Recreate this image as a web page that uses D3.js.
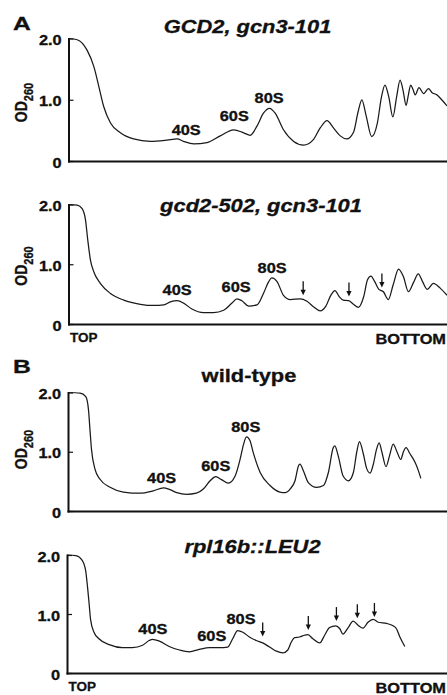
<!DOCTYPE html>
<html><head><meta charset="utf-8">
<script src="https://cdn.jsdelivr.net/npm/d3@7"></script>
<style>
html,body{margin:0;padding:0;background:#fff;}
svg{display:block;}
text{font-family:"Liberation Sans",Arial,Helvetica,sans-serif;font-weight:bold;fill:#111;stroke:#111;stroke-width:0.3px;}
</style></head><body>
<svg id="c" width="447" height="695"></svg>
<script>
// ---------- data (gradient position 0-100 %, OD260) ----------
const posA1 = [0.1,2.3,4.9,6.7,8.0,9.3,11.1,13.7,17.2,21.6,26.0,28.7,30.4,33.1,36.6,40.1,43.6,46.3,48.0,49.8,51.5,53.1,54.6,56.8,59.5,62.1,64.7,66.5,68.3,70.0,71.8,73.5,75.3,76.5,77.5,78.6,80.1,81.6,82.7,83.6,84.6,85.7,86.7,87.6,88.4,89.2,89.8,90.4,91.0,91.6,92.6,93.8,95.1,96.0,97.3,98.6,100];
const odA1  = [2.0,1.98,1.81,1.54,1.22,0.89,0.62,0.46,0.36,0.32,0.34,0.36,0.32,0.28,0.30,0.41,0.51,0.46,0.42,0.57,0.78,0.86,0.78,0.51,0.32,0.26,0.35,0.54,0.66,0.54,0.41,0.36,0.47,0.80,1.00,0.75,0.40,0.62,1.05,1.24,1.05,0.72,1.05,1.32,1.15,0.91,1.08,1.24,1.17,1.08,1.20,1.10,1.18,1.12,1.08,1.00,0.90];

const posA2 = [0.1,2.3,3.6,4.5,5.1,5.8,6.7,8.4,11.1,14.6,19.0,22.5,25.2,26.9,28.7,30.4,32.6,35.7,38.3,41.0,43.2,44.5,45.8,47.6,49.8,51.5,52.9,53.7,55.1,56.8,58.6,61.2,63.0,64.7,66.5,68.0,69.3,70.4,71.5,72.6,74.0,75.3,76.6,78.0,79.0,79.9,80.9,82.0,83.2,84.5,85.8,87.2,88.5,89.8,91.2,92.4,93.6,94.8,96.4,98.2,100];
const odA2  = [2.0,1.99,1.93,1.74,1.40,1.07,0.87,0.68,0.51,0.40,0.33,0.31,0.32,0.37,0.39,0.35,0.25,0.19,0.19,0.23,0.35,0.42,0.39,0.30,0.32,0.51,0.71,0.77,0.71,0.48,0.41,0.42,0.38,0.29,0.22,0.30,0.48,0.56,0.46,0.40,0.39,0.33,0.28,0.46,0.74,0.80,0.71,0.58,0.54,0.41,0.66,0.92,0.79,0.54,0.70,0.84,0.70,0.58,0.68,0.60,0.48];

const posB1 = [0.1,3.2,4.7,5.4,5.8,6.2,7.1,8.4,11.1,14.6,19.0,22.5,25.2,26.9,28.7,31.3,33.9,35.7,37.5,39.0,40.5,42.3,44.1,45.4,46.3,47.1,48.0,48.9,50.7,53.3,55.9,57.3,58.6,59.9,60.8,61.2,62.1,63.4,65.6,67.4,68.7,70.0,70.4,71.3,72.6,74.0,75.3,76.2,76.9,77.9,78.8,79.7,80.6,81.4,82.1,82.8,83.9,84.9,85.8,86.8,87.8,88.5,89.2,90.2,91.5,92.4,93.1];
const odB1  = [2.0,1.99,1.93,1.71,1.37,1.04,0.71,0.54,0.40,0.32,0.30,0.34,0.39,0.36,0.31,0.28,0.30,0.37,0.51,0.58,0.53,0.47,0.59,0.87,1.12,1.25,1.19,0.98,0.65,0.43,0.32,0.31,0.37,0.51,0.76,0.79,0.68,0.48,0.40,0.43,0.65,1.07,1.10,0.93,0.59,0.51,0.65,1.00,1.17,0.97,0.72,0.64,0.80,1.04,1.15,1.00,0.75,0.95,1.13,1.00,0.87,1.00,1.07,0.97,0.83,0.69,0.55];

const posB2 = [0.1,2.3,4.0,4.9,5.4,5.8,6.2,7.1,8.4,11.1,14.6,17.2,19.9,21.6,22.5,24.3,26.9,29.6,32.2,34.8,37.5,40.1,42.3,43.6,44.9,46.3,48.0,49.8,51.5,53.3,55.1,56.8,58.1,59.0,59.9,61.2,62.5,63.4,64.7,66.5,67.8,69.1,70.7,71.8,72.6,74.0,75.3,76.6,77.9,79.2,80.6,81.9,84.1,85.8,86.7,87.6,88.9];
const odB2  = [2.0,1.99,1.91,1.74,1.46,1.19,0.91,0.69,0.58,0.48,0.43,0.43,0.47,0.55,0.57,0.54,0.45,0.39,0.36,0.40,0.43,0.43,0.44,0.58,0.72,0.69,0.61,0.55,0.51,0.44,0.37,0.34,0.39,0.52,0.60,0.61,0.64,0.65,0.58,0.51,0.64,0.77,0.80,0.75,0.66,0.77,0.88,0.81,0.76,0.86,0.91,0.86,0.84,0.80,0.75,0.61,0.45];

const panelTitles = ["GCD2, gcn3-101", "gcd2-502, gcn3-101", "wild-type", "rpl16b::LEU2"];
const panelLetters = ["A", "", "B", ""];
const yTicks = [0, 1, 2];
const endLabels = ["TOP", "BOTTOM"];
const peakNames = ["40S", "60S", "80S"];
const peakPosA1 = [31.1, 43.8, 53.0], peakOdA1 = [0.43, 0.65, 0.95];
const peakPosA2 = [28.7, 44.3, 53.8], peakOdA2 = [0.49, 0.53, 0.85];
const peakPosB1 = [24.7, 39.0, 46.9], peakOdB1 = [0.48, 0.68, 1.34];
const peakPosB2 = [22.6, 38.1, 45.8], peakOdB2 = [0.66, 0.54, 0.83];
const arrowPosA2 = [62.0, 74.1, 82.8], arrowOdA2 = [0.48, 0.46, 0.61];
const arrowPosB2 = [51.5, 63.5, 70.9, 76.4, 80.9], arrowOdB2 = [0.62, 0.73, 0.88, 0.93, 0.95];

// ---------- layout ----------
const SX = 1.17;
const W = 447;
const panels = [
  {pos: posA1, od: odA1, peaks: [peakPosA1, peakOdA1], arrows: null,
   top: 38.5, base: 161, x0: 68.5, titleX: 247.5, titleY: 33.3, italic: true, odY: 102.5, letterY: 29.5, ends: null},
  {pos: posA2, od: odA2, peaks: [peakPosA2, peakOdA2], arrows: [arrowPosA2, arrowOdA2],
   top: 204.5, base: 324, x0: 68.5, titleX: 261, titleY: 211.5, italic: true, odY: 266, letterY: 0, ends: [342, 343.5]},
  {pos: posB1, od: odB1, peaks: [peakPosB1, peakOdB1], arrows: null,
   top: 392.5, base: 511, x0: 68, titleX: 249, titleY: 381.7, italic: false, odY: 449.5, letterY: 373.3, ends: null},
  {pos: posB2, od: odB2, peaks: [peakPosB2, peakOdB2], arrows: [arrowPosB2, arrowOdB2],
   top: 555, base: 673, x0: 67, titleX: 252.5, titleY: 553, italic: true, odY: null, letterY: 0, ends: [691, 692.5]}
];

const svg = d3.select("#c");

function sText(parent, x, y, str, size, sx, anchor, italic) {
  return parent.append("text")
    .attr("transform", `translate(${x},${y}) scale(${sx},1)`)
    .attr("text-anchor", anchor)
    .style("font-size", size + "px")
    .style("font-style", italic ? "italic" : "normal")
    .text(str);
}

panels.forEach((L, i) => {
  const g = svg.append("g");
  const x = d3.scaleLinear().domain([0, 100]).range([L.x0, W]);
  const y = d3.scaleLinear().domain([0, 2]).range([L.base, L.top]);

  // y axis
  const ya = g.append("g").attr("transform", `translate(${L.x0},0)`)
    .call(d3.axisLeft(y).tickValues(yTicks).tickSizeInner(-5).tickSizeOuter(0).tickPadding(0)
      .tickFormat(d => d === 0 ? "0" : d.toFixed(1)));
  ya.select(".domain").attr("stroke", "#111").attr("stroke-width", 2).attr("stroke-linecap", "square");
  ya.selectAll(".tick line").attr("stroke", "#111").attr("stroke-width", 1.2);
  ya.selectAll(".tick text")
    .attr("x", null).attr("dy", null)
    .attr("transform", "translate(-6.8,6) scale(" + SX + ",1)")
    .style("font-size", "14px");

  // x axis
  const xa = g.append("g").attr("transform", `translate(0,${L.base})`)
    .call(d3.axisBottom(x).tickValues([]).tickSizeOuter(0));
  xa.select(".domain").attr("stroke", "#111").attr("stroke-width", 2).attr("stroke-linecap", "square");

  // curve
  const data = d3.zip(L.pos, L.od);
  g.append("path").datum(data)
    .attr("fill", "none").attr("stroke", "#1a1a1a").attr("stroke-width", 1.25)
    .attr("stroke-linejoin", "round")
    .attr("d", d3.line().x(d => x(d[0])).y(d => y(d[1])).curve(d3.curveMonotoneX));

  // peak labels
  peakNames.forEach((n, k) => {
    sText(g, x(L.peaks[0][k]), y(L.peaks[1][k]), n, 14, SX, "middle", false);
  });

  // arrows
  if (L.arrows) {
    L.arrows[0].forEach((p, k) => {
      const ax = x(p), ay = y(L.arrows[1][k]);
      g.append("line").attr("x1", ax).attr("x2", ax).attr("y1", ay - 14).attr("y2", ay - 4)
        .attr("stroke", "#111").attr("stroke-width", 1.3);
      g.append("path").attr("d", `M${ax - 2.6},${ay - 5.5}L${ax + 2.6},${ay - 5.5}L${ax},${ay}Z`).attr("fill", "#111");
    });
  }

  // title
  sText(g, L.titleX, L.titleY, panelTitles[i], 18.7, SX, "middle", L.italic);

  // panel letter
  if (panelLetters[i]) sText(g, 13, L.letterY, panelLetters[i], 19, 1.3, "start", false);

  // y label
  if (L.odY !== null) {
    const t = g.append("text")
      .attr("transform", `translate(27,${L.odY}) scale(${SX},1) rotate(-90)`)
      .attr("text-anchor", "middle");
    t.append("tspan").style("font-size", "14px").text("OD");
    t.append("tspan").style("font-size", "11px").attr("dy", 5).text("260");
  }

  // TOP / BOTTOM
  if (L.ends) {
    sText(g, L.x0 + 1.5, L.ends[0], endLabels[0], 13.5, 1.0, "start", false);
    sText(g, W - 1, L.ends[1], endLabels[1], 14, SX, "end", false);
  }
});
</script>
</body></html>
